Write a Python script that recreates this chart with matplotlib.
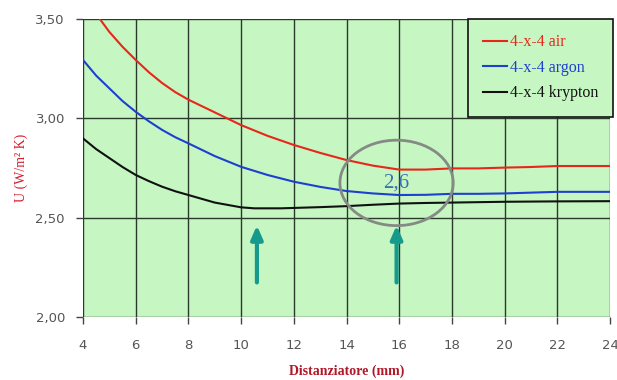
import matplotlib
matplotlib.use('Agg')
import matplotlib.pyplot as plt
from matplotlib.patches import Ellipse

# spessore distanziatore (mm) e trasmittanza U
x_air = [4, 4.5, 5, 5.5, 6, 6.5, 7, 7.5, 8, 9, 10, 11, 12, 13, 14, 15, 16, 17, 18, 19, 20, 21, 22, 23, 24]
u_air = [3.62, 3.525, 3.435, 3.36, 3.294, 3.232, 3.178, 3.132, 3.094, 3.03, 2.966, 2.912, 2.866,
         2.826, 2.79, 2.762, 2.742, 2.742, 2.748, 2.748, 2.752, 2.755, 2.76, 2.76, 2.76]

x_argon = [4, 4.5, 5, 5.5, 6, 6.5, 7, 7.5, 8, 9, 10, 11, 12, 13, 14, 15, 16, 17, 18, 19, 20, 21, 22, 23, 24]
u_argon = [3.294, 3.215, 3.151, 3.087, 3.033, 2.985, 2.942, 2.905, 2.874, 2.81, 2.756, 2.715, 2.681,
           2.655, 2.634, 2.622, 2.614, 2.615, 2.62, 2.62, 2.622, 2.626, 2.63, 2.63, 2.63]

x_krypton = [4, 4.5, 5, 5.5, 6, 6.5, 7, 7.5, 8, 9, 10, 10.5, 11.5, 12, 13, 14, 15, 16, 17, 18, 19,
             20, 22, 24]
u_krypton = [2.899, 2.845, 2.80, 2.755, 2.715, 2.684, 2.656, 2.633, 2.614, 2.576, 2.552, 2.547,
             2.547, 2.549, 2.553, 2.558, 2.565, 2.571, 2.574, 2.576, 2.578, 2.58, 2.582, 2.583]

labels = ['4-x-4 air', '4-x-4 argon', '4-x-4 krypton']
colors = ['#e8261c', '#1f3fd0', '#111111']

arrow_x = [10.6, 15.9]
yticks = [2.0, 2.5, 3.0, 3.5]
ytick_labels = ['2,00', '2,50', '3,00', '3,50']
xticks = list(range(4, 25, 2))

fig = plt.figure(figsize=(6.17, 3.80), dpi=100)
ax = fig.add_axes([83 / 617, 1 - 317 / 380, 527 / 617, 298 / 380])
ax.set_facecolor('#c6f7c2')

ax.plot(x_air, u_air, color=colors[0], lw=1.5, label=labels[0])
ax.plot(x_argon, u_argon, color=colors[1], lw=1.5, label=labels[1])
ax.plot(x_krypton, u_krypton, color=colors[2], lw=1.5, label=labels[2])

ax.set_xlim(4, 24)
ax.set_ylim(2.0, 3.5)
ax.set_xticks(xticks)
ax.set_yticks(yticks)
ax.set_yticklabels(ytick_labels)
ax.grid(True, color='#2a3a2a', lw=1)
ax.set_axisbelow(True)
for s in ax.spines.values():
    s.set_visible(False)
ax.tick_params(axis='both', colors='#444444', labelcolor='#555555', labelsize=9.5,
               length=5, width=1, direction='out', pad=8)
ax.tick_params(axis='x', pad=11)

ax.set_xlabel('Distanziatore (mm)', family='Liberation Serif', fontweight='bold',
              color='#b01828', fontsize=10, labelpad=9)
ax.set_ylabel('U (W/m² K)', family='Liberation Serif', color='#d81c2c', fontsize=10,
              labelpad=5)

# cerchio e testo
ax.add_patch(Ellipse((15.9, 2.675), 4.3, 0.43, fill=False, ec='#858a85', lw=2, zorder=5))
ax.text(15.9, 2.675, '2,6', color='#3a6fb4', fontsize=15, family='Liberation Serif',
        ha='center', va='center', zorder=6)

for ax_x in arrow_x:
    ax.annotate('', xy=(ax_x, 2.475), xytext=(ax_x, 2.16),
                arrowprops=dict(arrowstyle='-|>,head_width=0.35,head_length=0.8',
                                color='#169a8c', lw=3), zorder=6)

leg = ax.legend(loc='upper right', bbox_to_anchor=(1.006, 1.0), frameon=True, fancybox=False,
                prop={'family': 'Liberation Serif', 'size': 11.5}, handlelength=1.5,
                handletextpad=0.15, borderpad=0.95, labelspacing=0.6, borderaxespad=0)
leg.get_frame().set_facecolor('#c6f7c2')
leg.get_frame().set_edgecolor('#111111')
leg.get_frame().set_alpha(1)
leg.get_frame().set_linewidth(1.2)
for t, c in zip(leg.get_texts(), colors):
    t.set_color(c)

fig.savefig('out.png', dpi=100)
